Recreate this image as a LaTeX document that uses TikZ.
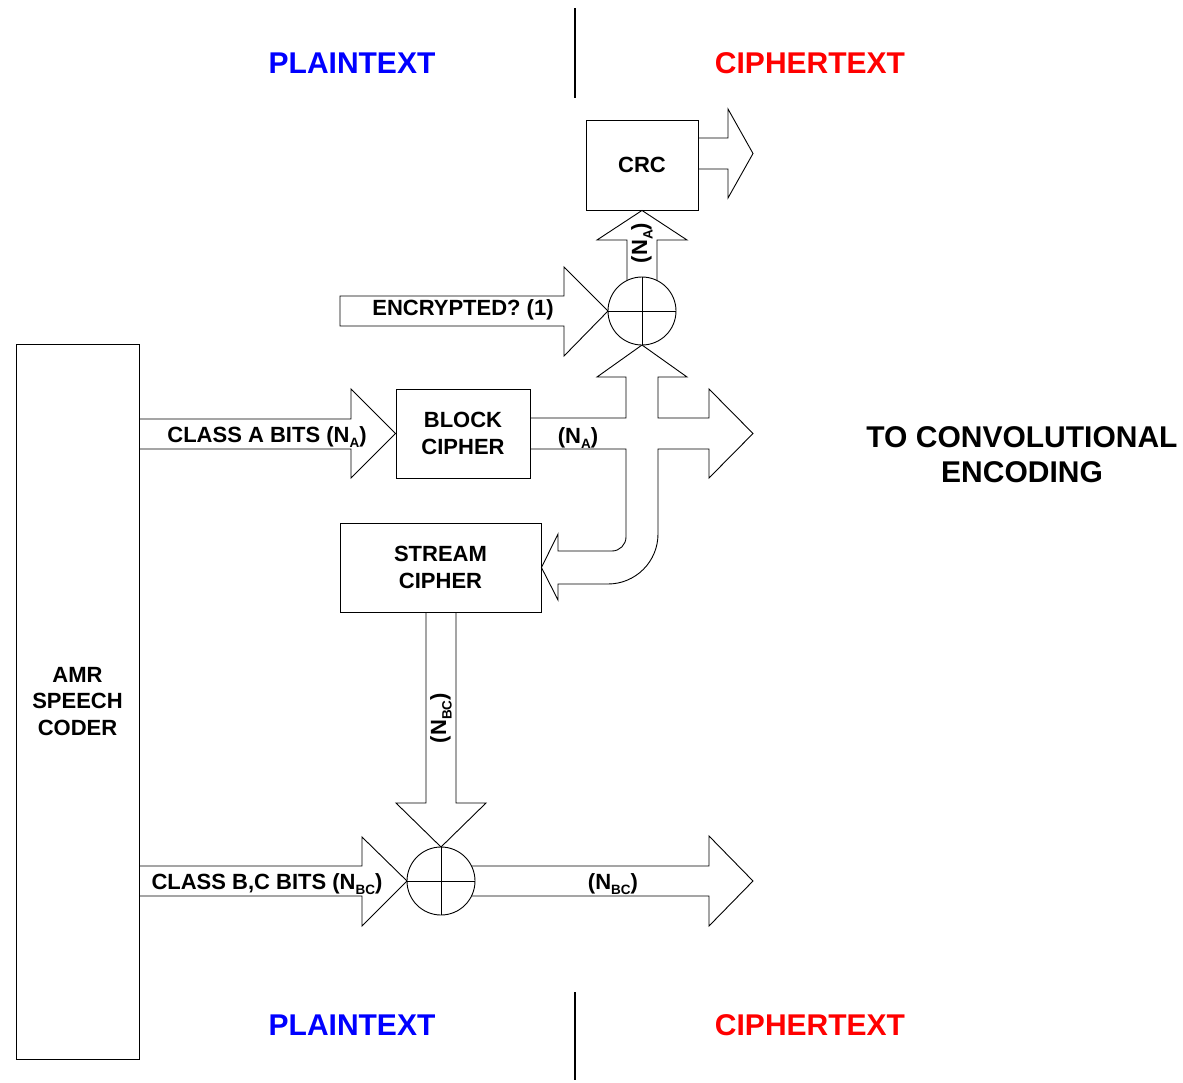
\documentclass[tikz,border=0pt]{standalone}
\usepackage{fontspec}
\setmainfont{Liberation Sans}
\newcommand\sbsc[1]{\raisebox{-5.5pt}{\fontsize{13.5}{14}\selectfont #1}}
\begin{document}
\begin{tikzpicture}[x=1pt,y=-1pt, line width=0.9pt, line join=miter,
  lbl/.style={font=\bfseries\fontsize{22}{26}\selectfont, align=center, inner sep=0pt},
  big/.style={font=\bfseries\fontsize{30}{35}\selectfont, align=center, inner sep=0pt},
  blk/.style={draw, fill=white, inner sep=0pt, font=\bfseries\fontsize{22}{26.5}\selectfont, align=center},
  xorc/.style={draw, fill=white, circle, minimum size=68pt, inner sep=0pt},
  divider/.style={line width=2.6pt}]
\useasboundingbox (0,0) rectangle (1183,1082);

% headings and dividers
\node[big, text=blue] (pt1) at (352,63) {PLAINTEXT};
\node[big, text=red] (ct1) at (810,63) {CIPHERTEXT};
\node[big, text=blue] (pt2) at (352,1025) {PLAINTEXT};
\node[big, text=red] (ct2) at (810,1025) {CIPHERTEXT};
\coordinate (d1a) at (575,8); \coordinate (d1b) at (575,98);
\coordinate (d2a) at (575,992); \coordinate (d2b) at (575,1080);
\draw[divider] (d1a) -- (d1b);
\draw[divider] (d2a) -- (d2b);

% boxes
\node[blk, minimum width=112pt, minimum height=90pt] (crc) at (642,165) {CRC};
\node[blk, minimum width=134pt, minimum height=89pt] (block) at (463,433.5) {BLOCK\\CIPHER};
\node[blk, minimum width=201pt, minimum height=89pt] (stream) at (440.5,567.5) {STREAM\\CIPHER};
\node[blk, minimum width=123pt, minimum height=715pt] (amr) at (77.5,701.5) {AMR\\SPEECH\\CODER};

% arrows
% ENCRYPTED? (1)
\draw (340,296) -- (564,296) -- (564,267) -- (608,311) -- (564,356) -- (564,326) -- (340,326) -- cycle;
% up into CRC
\draw (627,292) -- (627,240) -- (597,240) -- (crc.south) -- (687,240) -- (657,240) -- (657,292);
% CRC output
\draw (698,138) -- (728,138) -- (728,109) -- (753,153.5) -- (728,198) -- (728,169) -- (698,169);
% class A
\draw (amr.east |- 0,419) -- (351,419) -- (351,389) -- (block.west) -- (351,478) -- (351,449) -- (amr.east |- 0,449);
% block cipher outputs, split
\draw (block.east |- 0,418) -- (626,418) -- (626,377) -- (597,377) -- (642,345) -- (687,377) -- (658,377) -- (658,418)
  -- (709,418) -- (709,389) -- (753,433.5) -- (709,478) -- (709,449) -- (658,449) -- (658,534)
  .. controls (658,561.6) and (635.6,584) .. (608,584) -- (558,584) -- (558,600) -- (stream.east) -- (558,534)
  -- (558,551) -- (612,551) .. controls (619.7,551) and (626,544.7) .. (626,537) -- (626,449) -- (block.east |- 0,449);
% stream cipher down
\draw (426,612) -- (426,803) -- (396,803) -- (441,847) -- (486,803) -- (456,803) -- (456,612);
% class B,C
\draw (amr.east |- 0,866) -- (362,866) -- (362,837) -- (407,881) -- (362,926) -- (362,896) -- (amr.east |- 0,896);
% output B,C
\draw (462,866) -- (709,866) -- (709,836) -- (753,881) -- (709,926) -- (709,896) -- (462,896);

% XOR circles
\node[xorc] (x1) at (642,311) {};
\draw (x1.north) -- (x1.south) (x1.west) -- (x1.east);
\node[xorc] (x2) at (441,881) {};
\draw (x2.north) -- (x2.south) (x2.west) -- (x2.east);

% labels
\node[lbl] (lenc) at (463,310) {ENCRYPTED? (1)};
\node[lbl, anchor=base] (lca) at (267,442) {CLASS A BITS (N\sbsc{A})};
\node[lbl, anchor=base] (lna) at (578,443) {(N\sbsc{A})};
\node[lbl, anchor=base] (lcbc) at (267,889) {CLASS B,C BITS (N\sbsc{BC})};
\node[lbl, anchor=base] (lnbc) at (613,889) {(N\sbsc{BC})};
\node[lbl, rotate=90] (lnbcv) at (441,718) {(N\sbsc{BC})};
\node[lbl, rotate=90] (lnav) at (642,243) {(N\sbsc{A})};
\node[big] (conv) at (1022,455) {TO CONVOLUTIONAL\\ENCODING};
\end{tikzpicture}
\end{document}
